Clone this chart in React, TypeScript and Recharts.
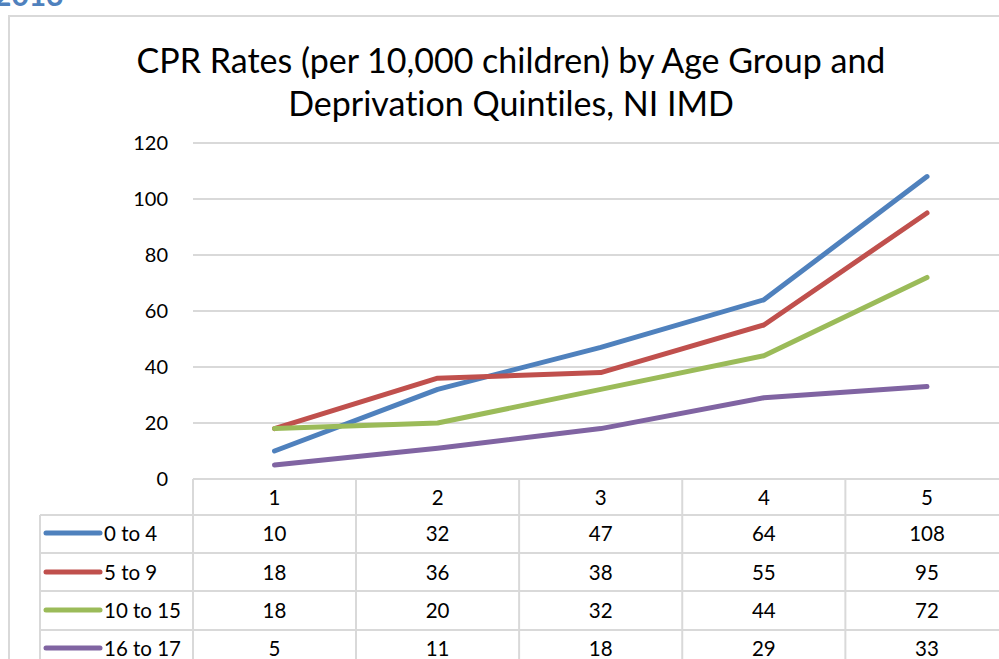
import React from 'react';
import { LineChart, Line, XAxis, YAxis, CartesianGrid } from 'recharts';

const quintiles = ['1', '2', '3', '4', '5'];
const age0to4 = [10, 32, 47, 64, 108];
const age5to9 = [18, 36, 38, 55, 95];
const age10to15 = [18, 20, 32, 44, 72];
const age16to17 = [5, 11, 18, 29, 33];
const seriesNames = ['0 to 4', '5 to 9', '10 to 15', '16 to 17'];
const seriesValues = [age0to4, age5to9, age10to15, age16to17];
const seriesColors = ['#4F81BD', '#C0504D', '#9BBB59', '#8064A2'];
const yTicks = [0, 20, 40, 60, 80, 100, 120];
const titleLines = ['CPR Rates (per 10,000 children) by Age Group and', 'Deprivation Quintiles, NI IMD'];

const keys = ['s0', 's1', 's2', 's3'];
const data = quintiles.map((q, i) => {
  const row: any = { q };
  keys.forEach((k, s) => (row[k] = seriesValues[s][i]));
  return row;
});

const FONT = 'Lato, "Open Sans", sans-serif';
const GRID = '#D9D9D9';
const BAND_HALF = 81.5;
const ROW_LINES = [36, 74, 112, 151, 190];
const ROW_CENTERS = [18, 54, 93, 131, 169];
const LEGEND_W = 153;

const TableTick = (props: any) => {
  const { x, y, payload, index } = props;
  const left = x - BAND_HALF;
  const right = x + BAND_HALF;
  const bottom = y + 230;
  return (
    <g>
      <line x1={right} y1={y} x2={right} y2={bottom} stroke={GRID} strokeWidth={2} />
      {index === 0 && <line x1={left} y1={y} x2={left} y2={bottom} stroke={GRID} strokeWidth={2} />}
      {ROW_LINES.map((d, i) => (
        <line key={i} x1={index === 0 ? left - LEGEND_W : left} y1={y + d} x2={right} y2={y + d} stroke={GRID} strokeWidth={2} />
      ))}
      {index === 0 && (
        <line x1={left - LEGEND_W} y1={y + ROW_LINES[0]} x2={left - LEGEND_W} y2={bottom} stroke={GRID} strokeWidth={2} />
      )}
      <text x={x} y={y + ROW_CENTERS[0]} textAnchor="middle" dominantBaseline="central" fontFamily={FONT} fontSize={20.5} fill="#000">
        {payload.value}
      </text>
      {seriesValues.map((vals, s) => (
        <text key={s} x={x} y={y + ROW_CENTERS[s + 1]} textAnchor="middle" dominantBaseline="central" fontFamily={FONT} fontSize={20.5} fill="#000">
          {vals[index]}
        </text>
      ))}
      {index === 0 &&
        seriesNames.map((name, s) => (
          <g key={name}>
            <line x1={left - 147} y1={y + ROW_CENTERS[s + 1]} x2={left - 93} y2={y + ROW_CENTERS[s + 1]} stroke={seriesColors[s]} strokeWidth={5} strokeLinecap="round" />
            <text x={left - 89} y={y + ROW_CENTERS[s + 1]} dominantBaseline="central" fontFamily={FONT} fontSize={20.5} fill="#000">
              {name}
            </text>
          </g>
        ))}
    </g>
  );
};

export default function App() {
  return (
    <div style={{ position: 'absolute', left: 0, top: 0, width: 999, height: 659, overflow: 'hidden', background: '#fff' }}>
      <div style={{ position: 'absolute', left: -6, top: -24, fontFamily: FONT, fontWeight: 700, fontSize: 30, color: '#4F81BD' }}>2013</div>
      <div style={{ position: 'absolute', left: 8, top: 15, width: 1100, height: 800, borderLeft: `2px solid ${GRID}`, borderTop: `2px solid ${GRID}` }} />
      <div style={{ position: 'absolute', left: 0, top: 0 }}>
        <LineChart width={1020} height={700} data={data} margin={{ top: 143, right: 11.5, bottom: 21, left: 133 }}>
          <CartesianGrid vertical={false} stroke={GRID} strokeWidth={2} />
          <XAxis
            dataKey="q"
            height={200}
            padding={{ left: BAND_HALF, right: BAND_HALF }}
            axisLine={{ stroke: GRID, strokeWidth: 2 }}
            tickLine={false}
            tickSize={0}
            tickMargin={0}
            interval={0}
            tick={<TableTick />}
          />
          <YAxis
            width={60}
            domain={[0, 120]}
            ticks={yTicks}
            axisLine={false}
            tickLine={false}
            tickSize={6}
            tickMargin={19}
            tick={{ fontFamily: FONT, fontSize: 20, fill: '#000' }}
          />
          {keys.map((k, s) => (
            <Line key={k} dataKey={k} name={seriesNames[s]} stroke={seriesColors[s]} strokeWidth={5} strokeLinecap="round" strokeLinejoin="round" dot={false} isAnimationActive={false} type="linear" />
          ))}
        </LineChart>
      </div>
      <div style={{ position: 'absolute', left: 0, top: 38, width: 1022, textAlign: 'center', fontFamily: FONT, fontSize: 34, lineHeight: '43px', color: '#000', fontVariantLigatures: 'none' }}>
        {titleLines.map((t) => (
          <div key={t}>{t}</div>
        ))}
      </div>
    </div>
  );
}
